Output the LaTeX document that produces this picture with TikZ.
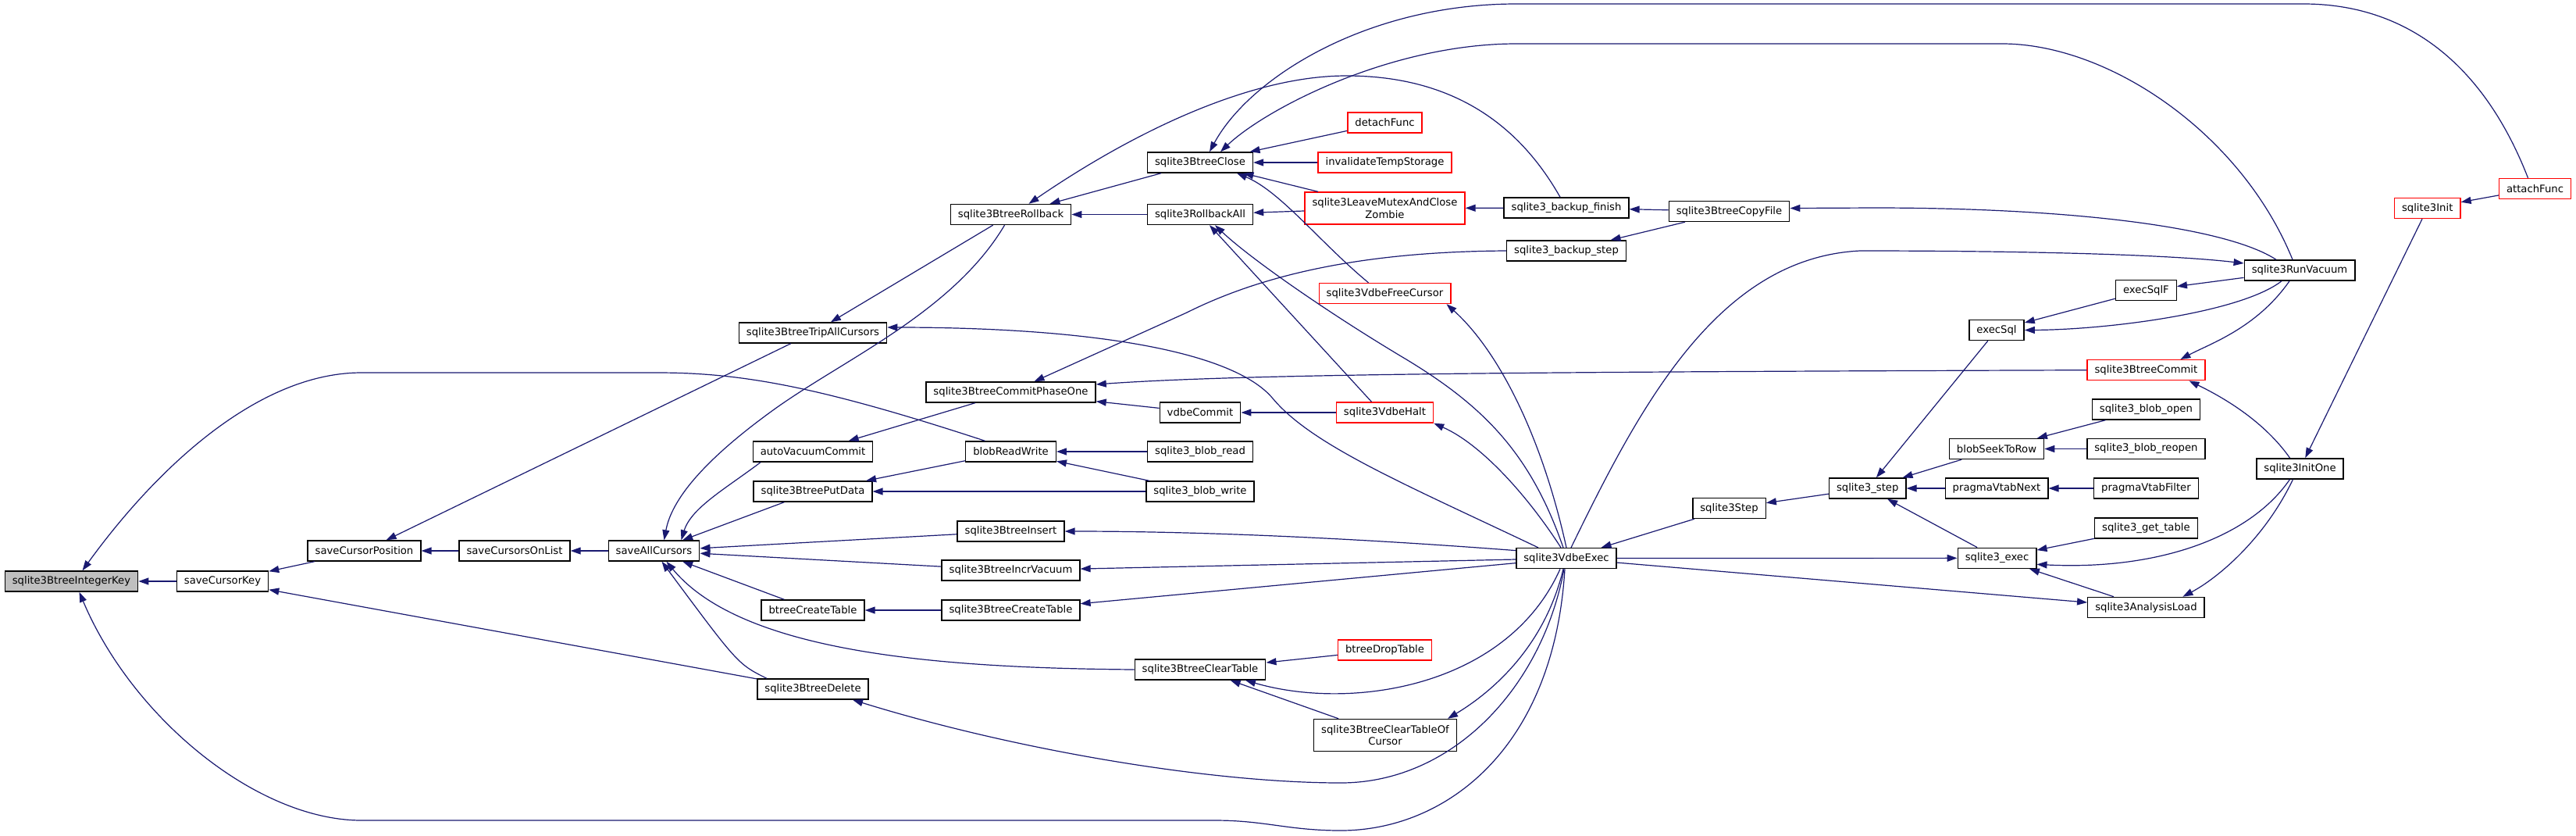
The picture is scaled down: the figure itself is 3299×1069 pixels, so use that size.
\documentclass[tikz,border=0pt]{standalone}
\usepackage{fontspec}
\setmainfont{DejaVu Sans}
\usetikzlibrary{arrows.meta}
\definecolor{edgeblue}{RGB}{25,25,112}
\definecolor{focusgray}{RGB}{191,191,191}
\tikzset{
    callgraph/.style={
        x=1pt, y=-1pt,
        >={Triangle[length=13pt,width=9pt]},
        font=\fontsize{13.2}{15.5}\selectfont,
    },
    fnbox/.style={draw=black, line width=1.4pt, fill=white,
        minimum height=26pt, inner xsep=9.5pt, inner ysep=4pt},
    truncbox/.style={fnbox, draw=red},
    twoline/.style={align=center, minimum height=41pt},
    call/.style={draw=edgeblue, line width=1.2pt, ->},
}

\begin{document}
\begin{tikzpicture}
        [callgraph]
        \useasboundingbox (0,0) rectangle (3299,1069);
        \node[fnbox,fill=focusgray] (ikey) at (91.5,744) {sqlite3BtreeIntegerKey};
        \node[fnbox] (savekey) at (285,744) {saveCursorKey};
        \node[fnbox] (savepos) at (466.5,705) {saveCursorPosition};
        \node[fnbox] (savelist) at (659,705) {saveCursorsOnList};
        \node[fnbox] (saveall) at (837.5,705) {saveAllCursors};
        \node[fnbox] (tripall) at (1041,426) {sqlite3BtreeTripAllCursors};
        \node[fnbox] (autovac) at (1041,578) {autoVacuumCommit};
        \node[fnbox] (putdata) at (1041,629) {sqlite3BtreePutData};
        \node[fnbox] (btcreate) at (1041,781) {btreeCreateTable};
        \node[fnbox] (bdelete) at (1041,882) {sqlite3BtreeDelete};
        \node[fnbox] (rollback) at (1294.5,274.5) {sqlite3BtreeRollback};
        \node[fnbox] (phaseone) at (1294.5,502) {sqlite3BtreeCommitPhaseOne};
        \node[fnbox] (blobrw) at (1294.5,578) {blobReadWrite};
        \node[fnbox] (insert) at (1294.5,680) {sqlite3BtreeInsert};
        \node[fnbox] (incrvac) at (1294.5,730) {sqlite3BtreeIncrVacuum};
        \node[fnbox] (createtab) at (1294.5,781) {sqlite3BtreeCreateTable};
        \node[fnbox] (close) at (1537,208) {sqlite3BtreeClose};
        \node[fnbox] (rollall) at (1537,274.5) {sqlite3RollbackAll};
        \node[fnbox] (vcommit) at (1537,528) {vdbeCommit};
        \node[fnbox] (blobread) at (1537,578) {sqlite3\_blob\_read};
        \node[fnbox] (blobwrite) at (1537,629) {sqlite3\_blob\_write};
        \node[fnbox] (cleartab) at (1537,857) {sqlite3BtreeClearTable};
        \node[truncbox] (detach) at (1773.5,157) {detachFunc};
        \node[truncbox] (invtemp) at (1773.5,208) {invalidateTempStorage};
        \node[truncbox,twoline] (zombie) at (1773.5,266.5) {sqlite3LeaveMutexAndClose\\Zombie};
        \node[truncbox] (freecur) at (1773.5,375.5) {sqlite3VdbeFreeCursor};
        \node[truncbox] (vhalt) at (1773.5,528) {sqlite3VdbeHalt};
        \node[truncbox] (droptab) at (1773.5,832) {btreeDropTable};
        \node[fnbox,twoline] (clearcur) at (1774,941) {sqlite3BtreeClearTableOf\\Cursor};
        \node[fnbox] (bfinish) at (2006,266) {sqlite3\_backup\_finish};
        \node[fnbox] (bstep) at (2006,321) {sqlite3\_backup\_step};
        \node[fnbox] (vexec) at (2006,714.6) {sqlite3VdbeExec};
        \node[fnbox] (copyfile) at (2214.5,270.5) {sqlite3BtreeCopyFile};
        \node[fnbox] (vstep) at (2214.5,650.5) {sqlite3Step};
        \node[fnbox] (sqlstep) at (2391.7,625) {sqlite3\_step};
        \node[fnbox] (execsql) at (2557,422.5) {execSql};
        \node[fnbox] (seekrow) at (2557,574.5) {blobSeekToRow};
        \node[fnbox] (vtabnext) at (2557,625) {pragmaVtabNext};
        \node[fnbox] (sqlexec) at (2557.5,714.3) {sqlite3\_exec};
        \node[fnbox] (execsqlf) at (2748.4,371.7) {execSqlF};
        \node[truncbox] (btcommit) at (2748.4,473.7) {sqlite3BtreeCommit};
        \node[fnbox] (blobopen) at (2748.4,524) {sqlite3\_blob\_open};
        \node[fnbox] (blobreopen) at (2748.4,574.5) {sqlite3\_blob\_reopen};
        \node[fnbox] (vtabfilter) at (2748.4,625) {pragmaVtabFilter};
        \node[fnbox] (gettable) at (2748.4,676) {sqlite3\_get\_table};
        \node[fnbox] (analysis) at (2748.4,777.4) {sqlite3AnalysisLoad};
        \node[fnbox] (runvac) at (2945,346) {sqlite3RunVacuum};
        \node[fnbox] (initone) at (2945.5,599.8) {sqlite3InitOne};
        \node[truncbox] (init) at (3108.7,266.5) {sqlite3Init};
        \node[truncbox] (attach) at (3246.5,241.5) {attachFunc};
        % straight calls, caller first
        \foreach \from/\to in {savekey/ikey, savepos/savekey, bdelete/savekey, savelist/savepos,
            tripall/savepos, saveall/savelist, putdata/saveall, insert/saveall, incrvac/saveall,
            btcreate/saveall, rollback/tripall, close/rollback, rollall/rollback, detach/close,
            invtemp/close, zombie/close, zombie/rollall, bfinish/zombie, copyfile/bfinish,
            copyfile/bstep, vcommit/phaseone, phaseone/autovac, vhalt/vcommit, blobread/blobrw,
            blobwrite/blobrw, blobrw/putdata, blobwrite/putdata, vexec/incrvac, vexec/createtab,
            createtab/btcreate, droptab/cleartab, clearcur/cleartab, vstep/vexec, sqlstep/vstep,
            execsql/sqlstep, seekrow/sqlstep, vtabnext/sqlstep, sqlexec/sqlstep, execsqlf/execsql,
            runvac/execsqlf, blobopen/seekrow, blobreopen/seekrow, vtabfilter/vtabnext,
            gettable/sqlexec, vexec/sqlexec, analysis/sqlexec, vexec/analysis, init/initone,
            attach/init}
            \draw[call] (\from) -- (\to);
        % curved calls
        \draw[call] ([xshift=-33pt]blobrw.north) .. controls (1050,495) and (950,477) .. (842,477)
            -- (463,477) .. controls (330,477) and (200,600) .. ([xshift=14pt]ikey.north);
        \draw[call] ([xshift=-2pt]vexec.south) .. controls (1990,960) and (1850,1063) .. (1717,1063)
            .. controls (1650,1063) and (1620,1050) .. (1556,1050) -- (463,1050)
            .. controls (330,1050) and (170,920) .. ([xshift=10pt]ikey.south);
        \draw[call] ([xshift=-3pt]vexec.south) .. controls (1975,880) and (1860,1002) .. (1717,1002)
            .. controls (1550,1002) and (1300,960) .. ([xshift=51pt]bdelete.south);
        \draw[call] ([xshift=-8pt]rollback.south) .. controls (1220,400) and (1080,460) .. (990,525)
            .. controls (900,590) and (860,640) .. ([xshift=13pt]saveall.north);
        \draw[call] ([xshift=-67pt]autovac.south) .. controls (930,625) and (885,650) .. ([xshift=35pt]saveall.north);
        \draw[call] (cleartab.west) .. controls (1200,855) and (950,835) .. ([xshift=16pt]saveall.south);
        \draw[call] ([xshift=-59pt]bdelete.north) .. controls (945,850) .. ([xshift=10pt]saveall.south);
        \draw[call] ([xshift=-36pt]vexec.north) .. controls (1800,620) and (1680,570) .. (1630,510)
            .. controls (1580,450) and (1400,419) .. ([yshift=7pt]tripall.east);
        \draw[call] ([xshift=-8pt]bfinish.north) .. controls (1940,150) and (1850,97) .. (1724,97)
            .. controls (1600,97) and (1450,170) .. ([xshift=23pt]rollback.north);
        \draw[call] ([xshift=-21pt]freecur.north) .. controls (1690,310) and (1640,245) .. ([xshift=47pt]close.south);
        \draw[call] ([xshift=-9pt]attach.north) .. controls (3180,80) and (3080,5) .. (2950,5)
            -- (1942,5) .. controls (1750,5) and (1600,100) .. ([xshift=12pt]close.north);
        \draw[call] ([xshift=-9pt]runvac.north) .. controls (2870,170) and (2700,56) .. (2564,56)
            -- (1942,56) .. controls (1780,56) and (1620,140) .. ([xshift=26pt]close.north);
        \draw[call] ([xshift=-17pt]vhalt.north) -- ([xshift=12pt]rollall.south);
        \draw[call] ([xshift=-4pt]vexec.north) .. controls (1960,580) and (1900,520) .. (1801,460)
            .. controls (1700,400) and (1600,330) .. ([xshift=19pt]rollall.south);
        \draw[call] ([xshift=-30pt]runvac.north) .. controls (2850,290) and (2650,266) .. (2400,266)
            -- ([yshift=4pt]copyfile.east);
        \draw[call] (bstep.west) .. controls (1750,322) and (1620,350) .. (1520,400)
            -- ([xshift=30pt]phaseone.north);
        \draw[call] (btcommit.west) .. controls (2000,476) and (1600,478) .. ([yshift=10pt]phaseone.east);
        \draw[call] ([xshift=-7pt]vexec.north) .. controls (1960,640) and (1900,570) .. (vhalt.south east);
        \draw[call] ([xshift=0pt]vexec.north) .. controls (1975,560) and (1920,450) .. ([xshift=-6pt]freecur.south east);
        \draw[call] ([yshift=10pt]vexec.west) .. controls (1750,690) and (1550,680) .. (insert.east);
        \draw[call] ([xshift=-8pt]vexec.south) .. controls (1930,880) and (1730,910) .. ([xshift=58pt]cleartab.south);
        \draw[call] ([xshift=-4pt]vexec.south) .. controls (1980,820) and (1920,880) .. ([xshift=80pt]clearcur.north);
        \draw[call] ([xshift=-23pt]runvac.south) .. controls (2870,400) and (2700,422) .. (execsql.east);
        \draw[call] ([xshift=6pt]vexec.north) .. controls (2100,520) and (2200,330) .. (2382,321)
            .. controls (2600,321) and (2780,326) .. ([yshift=9pt]runvac.west);
        \draw[call] ([xshift=-13pt]runvac.south) .. controls (2890,420) and (2830,440) .. ([xshift=44pt]btcommit.north);
        \draw[call] ([xshift=-13pt]initone.north) .. controls (2900,540) and (2850,510) .. ([xshift=55pt]btcommit.south);
        \draw[call] ([xshift=-13pt]initone.south) .. controls (2880,690) and (2760,730) .. ([yshift=-8pt]sqlexec.east);
        \draw[call] ([xshift=-9pt]initone.south) .. controls (2900,690) and (2840,740) .. ([xshift=47pt]analysis.north);
    \end{tikzpicture}
\end{document}
